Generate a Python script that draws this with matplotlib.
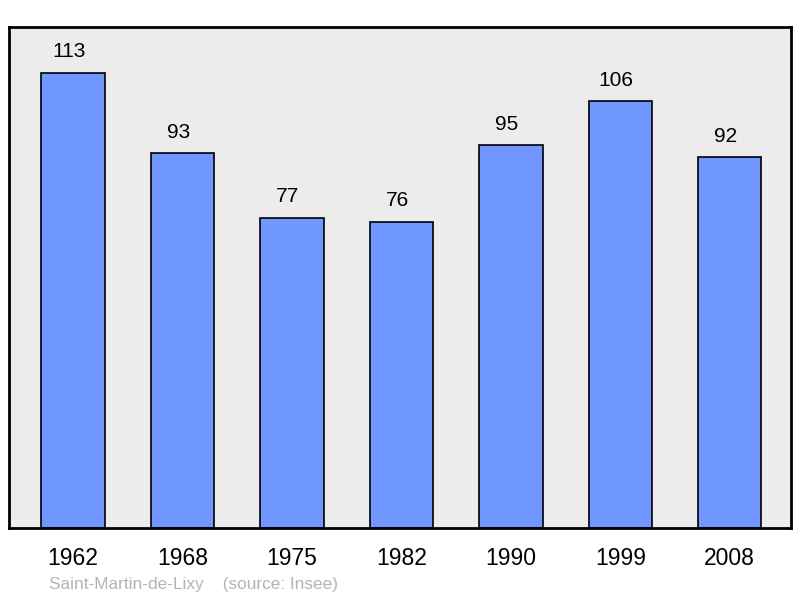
import matplotlib.pyplot as plt

plt.rcParams['font.family'] = ['Liberation Sans', 'DejaVu Sans']

years = ['1962', '1968', '1975', '1982', '1990', '1999', '2008']
population = [113, 93, 77, 76, 95, 106, 92]

fig = plt.figure(figsize=(8, 5.98), dpi=100)
ax = fig.add_axes([9 / 800, 70 / 598, 782 / 800, 501 / 598])
ax.set_facecolor('#ececec')

x = range(len(years))
ax.bar(x, population, width=0.58, color='#7096ff', edgecolor='black', linewidth=1.2, zorder=2)
for i, v in enumerate(population):
    ax.annotate(str(v), (i, v), xytext=(-4, 21), textcoords='offset pixels',
                ha='center', va='center', fontsize=15)

ax.set_xlim(-0.585, 6.56)
ax.set_ylim(0, 124.4)
ax.set_yticks([])
ax.set_xticks(list(x))
ax.set_xticklabels(years, fontsize=16.5)
ax.tick_params(axis='x', length=0, pad=14)
for s in ax.spines.values():
    s.set_linewidth(2)

fig.text(49 / 800, 1 - 584 / 598, 'Saint-Martin-de-Lixy    (source: Insee)',
         fontsize=12.4, color='#b4b4b4', va='center', ha='left')

fig.savefig('out.png', dpi=100)
